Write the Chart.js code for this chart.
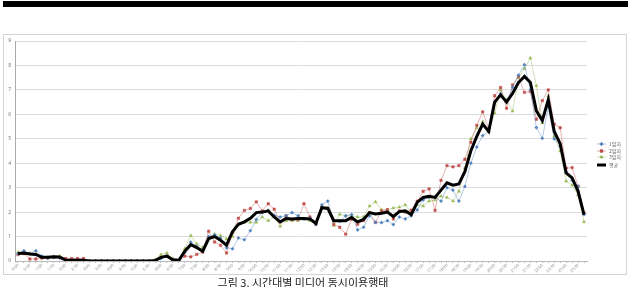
<!DOCTYPE html>
<html>
<head>
<meta charset="utf-8">
<script src="https://cdn.jsdelivr.net/npm/chart.js@4/dist/chart.umd.min.js"></script>
<style>
  html, body { margin: 0; padding: 0; background: #fff; }
  body { width: 632px; height: 287px; position: relative; overflow: hidden; }
  #topbar { position: absolute; left: 3px; top: 1px; width: 625px; height: 6px; background: #000; }
  #box { position: absolute; left: 3px; top: 34px; width: 622px; height: 239px; border: 1px solid #d4d4d4; }
  #chartCanvas { position: absolute; left: 3px; top: 34px; }
  #caption { position: absolute; left: 0; width: 606px; top: 274px; text-align: center;
             font-family: "Noto Sans CJK KR", sans-serif; font-size: 11px; color: #222; }
</style>
</head>
<body>
<div id="topbar"></div>
<div id="box"></div>
<canvas id="chartCanvas" width="624" height="241"></canvas>
<div id="caption">그림 3. 시간대별 미디어 동시이용행태</div>
<script>
// 15분 단위 시간대 (96개)
const timeLabels = [];
for (let h = 0; h < 24; h++) {
    for (let m = 0; m < 60; m += 15) {
        timeLabels.push(h + ':' + (m === 0 ? '00' : m));
    }
}

const seriesNames = ['1일차', '2일차', '3일차', '평균'];

const day1 = [0.3, 0.42, 0.3, 0.42, 0.2, 0.12, 0.15, 0.12, 0, 0, 0, 0,
    0, 0, 0, 0, 0, 0, 0, 0, 0, 0, 0, 0,
    0.1, 0.2, 0, 0, 0.35, 0.77, 0.6, 0.45, 1.0, 1.07, 0.94, 0.54,
    0.5, 0.94, 0.87, 1.24, 1.7, 1.98, 2.07, 1.87, 1.8, 1.85, 1.98, 1.85,
    1.71, 1.75, 1.5, 2.3, 2.45, 1.65, 1.62, 1.85, 1.9, 1.27, 1.38, 1.85,
    1.58, 1.57, 1.65, 1.49, 1.8, 1.72, 1.85, 2.09, 2.5, 2.6, 2.6, 2.45,
    3.0, 2.9, 2.45, 3.05, 4.0, 4.66, 5.13, 5.3, 6.5, 6.85, 6.5, 7.1,
    7.6, 8.03, 7.0, 5.46, 5.02, 6.3, 5.0, 4.7, 3.65, 3.3, 3.05, 1.9];

const day2 = [0.26, 0.3, 0.08, 0.08, 0.12, 0.12, 0.15, 0.15, 0.1, 0.1, 0.1, 0.1,
    0, 0, 0, 0, 0, 0, 0, 0, 0, 0, 0, 0,
    0.15, 0.2, 0.05, 0, 0.2, 0.17, 0.27, 0.37, 1.22, 0.78, 0.64, 0.33,
    1.17, 1.75, 2.07, 2.15, 2.42, 2.05, 2.34, 2.12, 1.6, 1.85, 1.7, 1.7,
    2.34, 1.8, 1.5, 2.18, 2.15, 1.5, 1.38, 1.1, 1.71, 1.5, 1.65, 1.98,
    1.58, 2.05, 2.1, 1.72, 2.05, 2.0, 2.08, 2.45, 2.85, 2.95, 2.07, 3.3,
    3.9, 3.85, 3.9, 4.16, 4.86, 5.55, 6.1, 5.4, 6.76, 7.1, 6.25, 7.2,
    7.55, 6.9, 6.93, 5.8, 6.56, 7.0, 5.6, 5.45, 3.8, 3.82, 3.06, 1.95];

const day3 = [0.36, 0.3, 0.32, 0.3, 0.12, 0.15, 0.18, 0.2, 0.02, 0, 0, 0,
    0, 0, 0, 0, 0, 0, 0, 0, 0, 0, 0, 0.05,
    0.26, 0.33, 0.1, 0.05, 0.5, 1.04, 0.7, 0.55, 0.9, 1.1, 1.04, 0.9,
    1.0, 1.5, 1.58, 1.58, 1.58, 1.8, 1.65, 1.8, 1.42, 1.65, 1.65, 1.65,
    1.71, 1.65, 1.55, 2.25, 2.18, 1.45, 1.91, 1.85, 1.85, 1.8, 1.8, 2.25,
    2.42, 2.1, 2.1, 2.17, 2.2, 2.3, 1.97, 2.3, 2.25, 2.45, 2.5, 2.65,
    2.6, 2.45, 2.85, 3.8, 5.0, 5.45, 5.7, 5.3, 6.05, 7.0, 6.6, 6.13,
    7.5, 7.87, 8.3, 7.17, 5.65, 6.75, 5.1, 4.5, 3.27, 3.1, 2.7, 1.6];

const average = [0.31, 0.33, 0.29, 0.27, 0.15, 0.15, 0.17, 0.16, 0.04, 0.03, 0.03, 0.03,
    0, 0, 0, 0, 0, 0, 0, 0, 0, 0, 0, 0.02,
    0.15, 0.2, 0.05, 0.03, 0.4, 0.67, 0.55, 0.4, 0.92, 1.0, 0.85, 0.65,
    1.2, 1.5, 1.6, 1.75, 1.98, 2.0, 2.05, 1.8, 1.6, 1.74, 1.72, 1.74,
    1.74, 1.72, 1.54, 2.18, 2.15, 1.65, 1.65, 1.65, 1.78, 1.6, 1.7, 1.98,
    1.92, 1.95, 2.0, 1.82, 2.02, 2.05, 1.9, 2.4, 2.6, 2.65, 2.6, 2.9,
    3.2, 3.1, 3.15, 3.65, 4.5, 5.1, 5.6, 5.3, 6.5, 6.8, 6.5, 6.85,
    7.3, 7.55, 7.3, 6.15, 5.75, 6.6, 5.3, 4.8, 3.6, 3.4, 2.85, 1.9];

const yTicks = [0, 1, 2, 3, 4, 5, 6, 7, 8, 9];

// 엑셀식 범례 (선 + 마커)
const sideLegend = {
    id: 'sideLegend',
    afterDraw(chart) {
        const ctx = chart.ctx;
        const x0 = chart.chartArea.right + 10;
        const rows = [110, 117, 123, 131];
        chart.data.datasets.forEach((ds, i) => {
            const y = rows[i];
            ctx.save();
            ctx.strokeStyle = ds.borderColor;
            ctx.lineWidth = ds.label === '평균' ? 3 : 0.8;
            ctx.beginPath();
            ctx.moveTo(x0, y);
            ctx.lineTo(x0 + 9, y);
            ctx.stroke();
            if (ds.pointRadius > 0) {
                Chart.helpers.drawPoint(ctx, {
                    pointStyle: ds.pointStyle, radius: 1.6, rotation: 0, borderWidth: 0.5
                }, x0 + 4.5, y);
                ctx.fillStyle = ds.pointBackgroundColor;
                ctx.strokeStyle = ds.pointBackgroundColor;
                Chart.helpers.drawPoint(ctx, {
                    pointStyle: ds.pointStyle, radius: 1.6, rotation: 0, borderWidth: 0.5
                }, x0 + 4.5, y);
            }
            ctx.fillStyle = '#666';
            ctx.font = '5px "Noto Sans CJK KR", sans-serif';
            ctx.textBaseline = 'middle';
            ctx.fillText(ds.label, x0 + 12, y);
            ctx.restore();
        });
    }
};

document.addEventListener("DOMContentLoaded", function () {
    const ctx = document.getElementById('chartCanvas').getContext('2d');
    new Chart(ctx, {
        type: 'line',
        data: {
            labels: timeLabels,
            datasets: [{
                label: seriesNames[0],
                data: day1,
                borderColor: 'rgba(79,129,189,0.55)',
                borderWidth: 0.8,
                pointStyle: 'rectRot',
                pointRadius: 1.6,
                pointBackgroundColor: '#4F81BD',
                pointBorderColor: '#4F81BD',
                pointBorderWidth: 0.5,
                tension: 0,
                order: 1
            }, {
                label: seriesNames[1],
                data: day2,
                borderColor: 'rgba(192,80,77,0.55)',
                borderWidth: 0.8,
                pointStyle: 'rect',
                pointRadius: 1.7,
                pointBackgroundColor: '#C0504D',
                pointBorderColor: '#C0504D',
                pointBorderWidth: 0.5,
                tension: 0,
                order: 1
            }, {
                label: seriesNames[2],
                data: day3,
                borderColor: 'rgba(155,187,89,0.55)',
                borderWidth: 0.8,
                pointStyle: 'triangle',
                pointRadius: 1.8,
                pointBackgroundColor: '#9BBB59',
                pointBorderColor: '#9BBB59',
                pointBorderWidth: 0.5,
                tension: 0,
                order: 1
            }, {
                label: seriesNames[3],
                data: average,
                borderColor: '#000',
                borderWidth: 3,
                pointRadius: 0,
                tension: 0,
                order: 0
            }]
        },
        options: {
            responsive: false,
            animation: false,
            layout: { padding: { left: 0, top: 3, right: 40, bottom: 2 } },
            plugins: {
                legend: { display: false },
                tooltip: { enabled: false }
            },
            scales: {
                x: {
                    offset: true,
                    afterFit: s => { s.height = 12; },
                    grid: { display: true, drawOnChartArea: false, drawTicks: true, tickLength: 2, color: '#bbb' },
                    border: { color: '#bbb' },
                    ticks: {
                        autoSkip: false,
                        maxRotation: 45,
                        minRotation: 45,
                        padding: 0,
                        color: '#888',
                        font: { size: 4, family: 'Noto Sans' },
                        callback: function (val, index) {
                            return index % 2 === 0 ? timeLabels[index] : '';
                        }
                    }
                },
                y: {
                    min: yTicks[0],
                    max: yTicks[yTicks.length - 1],
                    afterFit: s => { s.width = 12; },
                    afterBuildTicks: s => { s.ticks = yTicks.map(v => ({ value: v })); },
                    grid: { color: '#dcdcdc', drawTicks: false },
                    border: { color: '#aaa' },
                    ticks: {
                        padding: 4,
                        color: '#777',
                        font: { size: 5, family: 'Noto Sans' }
                    }
                }
            }
        },
        plugins: [sideLegend]
    });
});
</script>
</body>
</html>
